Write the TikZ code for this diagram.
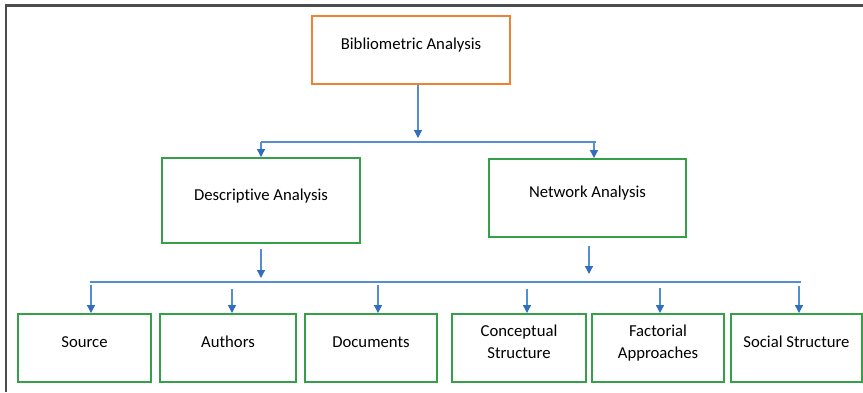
\documentclass[tikz,border=0pt]{standalone}
\usepackage{fontspec}
\setmainfont[Ligatures=NoCommon]{Carlito}
\usetikzlibrary{arrows.meta}

\definecolor{rootorange}{RGB}{240,128,50}
\definecolor{boxgreen}{RGB}{52,160,72}
\definecolor{linkblue}{RGB}{84,142,210}
\definecolor{tipblue}{RGB}{50,110,190}

\tikzset{
  rootbox/.style={draw=rootorange, line width=1.2pt, minimum width=3.96cm, minimum height=1.36cm,
    text height=0.24cm, text depth=0.26cm},
  greenbox/.style={draw=boxgreen, line width=1.1pt, align=center,
    text height=0.24cm, text depth=0.26cm},
  twoline/.style={text height=0.66cm},
  arr/.style={draw=linkblue, line width=0.7pt, -{Triangle[width=4.5pt,length=4.5pt,color=tipblue]}},
  bar/.style={draw=linkblue, line width=0.7pt},
  frame/.style={draw=black!70, line width=1.2pt}
}

\begin{document}
\begin{tikzpicture}[font=\fontsize{9.5}{12}\selectfont]
  \useasboundingbox (0,0) rectangle (17.26,7.84);
  %%%%% frame %%%%%
  \draw[frame] (0.12,0) -- (0.12,7.73) -- (17.26,7.73);

  %%%%% boxes %%%%%
  \node[rootbox] (biblio) at (8.22,6.84) {Bibliometric Analysis};

  \node[greenbox, minimum width=3.96cm, minimum height=1.70cm] (desc) at (5.22,3.83) {Descriptive Analysis};
  \node[greenbox, minimum width=3.94cm, minimum height=1.56cm] (netw) at (11.75,3.88) {Network Analysis};

  \node[greenbox, minimum width=2.66cm, minimum height=1.36cm] (source) at (1.69,0.88) {Source};
  \node[greenbox, minimum width=2.72cm, minimum height=1.36cm] (authors) at (4.56,0.88) {Authors};
  \node[greenbox, minimum width=2.64cm, minimum height=1.36cm] (documents) at (7.42,0.88) {Documents};
  \node[greenbox, twoline, minimum width=2.68cm, minimum height=1.36cm] (concept) at (10.38,0.88) {Conceptual\\Structure};
  \node[greenbox, twoline, minimum width=2.64cm, minimum height=1.36cm] (factor) at (13.16,0.88) {Factorial\\Approaches};
  \node[greenbox, minimum width=2.62cm, minimum height=1.36cm] (social) at (15.93,0.88) {Social Structure};

  %%%%% first fork %%%%%
  \coordinate (forkL) at (5.22,5.0);
  \coordinate (forkR) at (11.92,5.0);
  \coordinate (topin) at (8.36,5.0);
  \coordinate (netwin) at (11.88,5.0);
  \draw[arr] (biblio.south -| topin) -- ([yshift=0.08cm]topin);
  \draw[bar] (forkL) -- (forkR);
  \draw[arr] (forkL) -- (desc.north);
  \draw[arr] (netwin) -- (netwin |- netw.north);

  %%%%% second fork %%%%%
  \coordinate (lowL) at (1.80,2.2);
  \coordinate (lowR) at (16.02,2.2);
  \draw[arr] ([yshift=-0.1cm]desc.south) -- (desc.south |- 0,2.28);
  \draw[arr] ([yshift=-0.16cm]11.78,0 |- netw.south) -- (11.78,2.36);
  \draw[bar] (lowL) -- (lowR);

  \foreach \b/\x/\g in {source/1.82/0.06, authors/4.64/0.14, documents/7.56/0.06,
                        concept/10.54/0.14, factor/13.20/0.12, social/15.98/0.08}
    \draw[arr] ([yshift=-\g cm]\x,0 |- lowL) -- (\x,0 |- \b.north);
\end{tikzpicture}
\end{document}
